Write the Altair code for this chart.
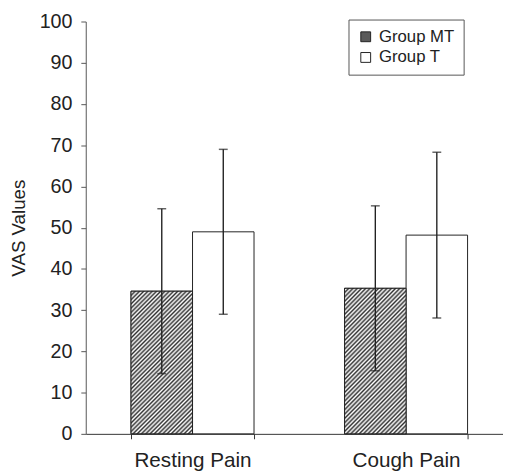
import altair as alt
import pandas as pd

# ---- data ----
categories = ["Resting Pain", "Cough Pain"]
groups = ["Group MT", "Group T"]
mt_mean = [34.6, 35.3]
mt_sd = [20.0, 20.0]
t_mean = [49.0, 48.2]
t_sd = [20.0, 20.1]

rows = []
for i, c in enumerate(categories):
    rows.append({"Pain": c, "Group": groups[0], "mean": mt_mean[i],
                 "lo": mt_mean[i] - mt_sd[i], "hi": mt_mean[i] + mt_sd[i]})
    rows.append({"Pain": c, "Group": groups[1], "mean": t_mean[i],
                 "lo": t_mean[i] - t_sd[i], "hi": t_mean[i] + t_sd[i]})
df = pd.DataFrame(rows)

FONT = "Liberation Sans"

# hatch look: a striped linear gradient at ~45 degrees (style only)
N_STRIPES = 48
stops = []
for k in range(N_STRIPES):
    stops.append({"offset": k / N_STRIPES, "color": "#333333"})
    stops.append({"offset": (k + 0.5) / N_STRIPES, "color": "#ffffff"})
stops.append({"offset": 1.0, "color": "#333333"})
hatch = {"gradient": "linear", "x1": 0, "y1": 0, "x2": 0.52, "y2": 1.207,
         "stops": stops}

x_enc = alt.X("Pain:N", sort=categories, title=None,
              scale=alt.Scale(paddingInner=0.424, paddingOuter=0.212),
              axis=alt.Axis(labelAngle=0, labelFontSize=21, labelFont=FONT,
                            labelColor="#222", tickBand="extent", tickSize=5,
                            labelPadding=11, domainColor="#333", tickColor="#333",
                            labelFontWeight="normal"))
xo_enc = alt.XOffset("Group:N", sort=groups, scale=alt.Scale(paddingInner=0, paddingOuter=0))
y_enc = alt.Y("mean:Q", title="VAS Values",
              scale=alt.Scale(domain=[0, 100], nice=False, zero=True),
              axis=alt.Axis(values=list(range(0, 101, 10)), grid=False, tickSize=5,
                            labelFontSize=20, labelFont=FONT, labelColor="#222",
                            labelPadding=9, titleFontSize=19, titleFont=FONT,
                            titleFontWeight="normal", titleColor="#222",
                            titlePadding=11, domainColor="#555", tickColor="#555"))

base = alt.Chart(df)

bars = base.mark_bar(stroke="#222", strokeWidth=1).encode(
    x=x_enc, xOffset=xo_enc, y=y_enc,
    fill=alt.Fill("Group:N", sort=groups,
                  scale=alt.Scale(domain=groups, range=["#5a5a5a", "#ffffff"]),
                  legend=alt.Legend(title=None, orient="none", legendX=267, legendY=-2,
                                    symbolType="square", symbolSize=100,
                                    symbolStrokeColor="#222", symbolStrokeWidth=1,
                                    labelFontSize=17, labelFont=FONT, labelColor="#222",
                                    labelOffset=5, rowPadding=3, padding=9,
                                    strokeColor="#555", fillColor="white")),
)

hatched = base.transform_filter(alt.datum.Group == groups[0]).mark_bar(
    stroke="#222", strokeWidth=1, fill=hatch).encode(
    x=x_enc, xOffset=xo_enc, y="mean:Q")

err = base.mark_rule(color="#222", strokeWidth=1.4).encode(
    x=x_enc, xOffset=xo_enc, y="lo:Q", y2="hi:Q")
cap_lo = base.mark_tick(color="#222", thickness=1.5, size=9).encode(
    x=x_enc, xOffset=xo_enc, y="lo:Q")
cap_hi = base.mark_tick(color="#222", thickness=1.5, size=9).encode(
    x=x_enc, xOffset=xo_enc, y="hi:Q")

chart = alt.layer(bars, hatched, err, cap_lo, cap_hi).properties(
    width=434, height=419,
    autosize=alt.AutoSizeParams(type="none"),
    padding={"left": 79, "top": 10, "right": -10, "bottom": 34},
    background="white",
).configure_view(stroke=None)

chart.save("out.html", embed_options={"renderer": "svg", "actions": False})
